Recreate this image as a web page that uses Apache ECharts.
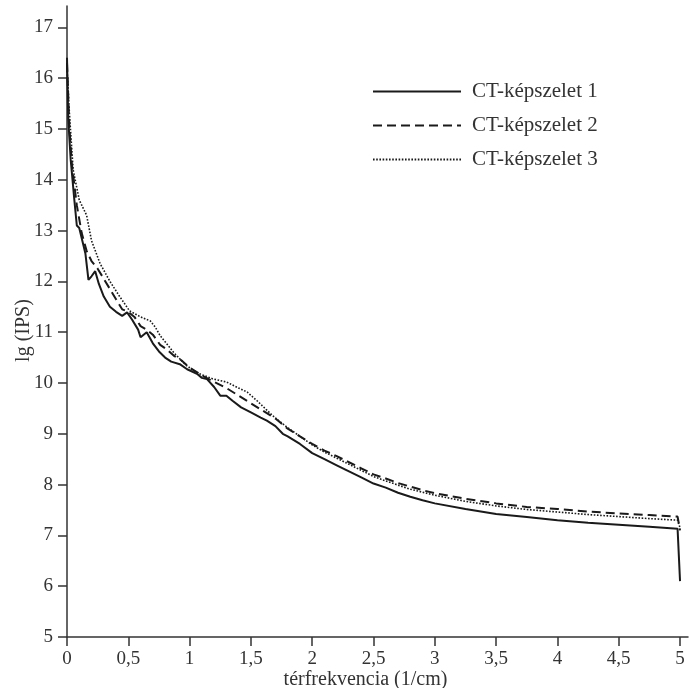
<!DOCTYPE html>
<html><head><meta charset="utf-8">
<script src="https://cdn.jsdelivr.net/npm/echarts@6/dist/echarts.min.js"></script>
<style>html,body{margin:0;padding:0;background:#fff}#c{width:690px;height:688px}</style>
</head><body><div id="c"></div>
<script>
const seriesNames = ['CT-képszelet 1', 'CT-képszelet 2', 'CT-képszelet 3'];
const xTicks = [0, 0.5, 1, 1.5, 2, 2.5, 3, 3.5, 4, 4.5, 5];
const yTicks = [5, 6, 7, 8, 9, 10, 11, 12, 13, 14, 15, 16, 17];

const x1 = [0,0.01,0.03,0.06,0.08,0.1,0.13,0.15,0.175,0.2,0.23,0.26,0.3,0.35,0.4,0.45,0.49,0.53,0.58,0.6,0.65,0.7,0.75,0.8,0.85,0.92,0.98,1.06,1.1,1.14,1.2,1.25,1.3,1.35,1.42,1.5,1.58,1.63,1.7,1.76,1.8,1.9,2.0,2.1,2.2,2.3,2.4,2.5,2.6,2.7,2.8,2.9,3.0,3.25,3.5,3.75,4.0,4.25,4.5,4.75,4.98,5.0];
const y1 = [16.4,15.2,14.4,13.6,13.1,13.05,12.75,12.55,12.03,12.1,12.2,11.95,11.7,11.5,11.4,11.32,11.39,11.25,11.05,10.9,11.0,10.78,10.62,10.5,10.42,10.37,10.27,10.18,10.1,10.08,9.92,9.75,9.75,9.65,9.52,9.42,9.32,9.26,9.15,9.0,8.95,8.8,8.62,8.5,8.38,8.26,8.14,8.02,7.94,7.84,7.76,7.69,7.63,7.52,7.42,7.36,7.3,7.25,7.21,7.17,7.13,6.1];

const x2 = [0,0.02,0.04,0.08,0.12,0.16,0.2,0.25,0.3,0.35,0.4,0.45,0.5,0.55,0.6,0.65,0.7,0.76,0.82,0.87,0.93,1.0,1.1,1.2,1.3,1.4,1.5,1.6,1.7,1.8,1.9,2.0,2.1,2.2,2.3,2.4,2.5,2.6,2.7,2.8,2.9,3.0,3.25,3.5,3.75,4.0,4.25,4.5,4.75,4.98,5.0];
const y2 = [16.3,15.0,14.3,13.5,12.95,12.6,12.4,12.25,12.05,11.85,11.65,11.45,11.4,11.3,11.12,11.05,10.95,10.75,10.65,10.54,10.45,10.3,10.15,10.02,9.9,9.75,9.6,9.45,9.3,9.1,8.95,8.8,8.67,8.56,8.44,8.32,8.2,8.12,8.03,7.96,7.89,7.83,7.72,7.63,7.56,7.52,7.47,7.43,7.4,7.37,7.1];

const x3 = [0,0.02,0.05,0.1,0.16,0.2,0.27,0.35,0.43,0.51,0.6,0.68,0.72,0.76,0.87,0.97,1.06,1.19,1.3,1.4,1.47,1.55,1.68,1.8,1.9,2.0,2.1,2.2,2.3,2.4,2.5,2.6,2.7,2.8,2.9,3.0,3.25,3.5,3.75,4.0,4.25,4.5,4.75,4.98,5.0];
const y3 = [16.2,15.3,14.2,13.6,13.3,12.8,12.35,12.0,11.7,11.42,11.3,11.22,11.1,10.93,10.6,10.35,10.2,10.08,10.02,9.9,9.82,9.65,9.35,9.12,8.95,8.78,8.64,8.52,8.4,8.28,8.16,8.07,7.99,7.91,7.85,7.79,7.67,7.58,7.51,7.46,7.41,7.37,7.33,7.3,7.15];

const zip = (xs, ys) => xs.map((x, i) => [x, ys[i]]);
const FONT = '"Liberation Serif", "DejaVu Serif", serif';
const TXT = '#333';
const LINE = '#1a1a1a';

const chart = echarts.init(document.getElementById('c'), null, {renderer: 'canvas'});
chart.setOption({
  animation: false,
  backgroundColor: '#fff',
  grid: {left: 67, right: 2, top: 6, bottom: 51, containLabel: false, outerBoundsMode: 'none'},
  legend: {
    orient: 'vertical', left: 367, top: 76,
    itemWidth: 88, itemHeight: 14, itemGap: 13,
    itemStyle: {opacity: 0},
    textStyle: {fontFamily: FONT, fontSize: 21, color: TXT, padding: [0, 0, 0, 6]},
    data: seriesNames
  },
  xAxis: {
    type: 'value', min: 0, max: 5.065,
    name: 'térfrekvencia (1/cm)', nameLocation: 'middle', nameGap: 33, nameMoveOverlap: false,
    nameTextStyle: {fontFamily: FONT, fontSize: 20, color: TXT, padding: [0, 24, 0, 0]},
    axisLine: {lineStyle: {color: '#333', width: 1.5}},
    axisTick: {show: true, inside: false, length: 9, customValues: xTicks, lineStyle: {color: '#333', width: 1.5}},
    axisLabel: {customValues: xTicks, fontFamily: FONT, fontSize: 19, color: TXT, margin: 13,
      formatter: v => String(v).replace('.', ',')},
    splitLine: {show: false}
  },
  yAxis: {
    type: 'value', min: 5, max: 17.42,
    name: 'lg (IPS)', nameLocation: 'middle', nameGap: 33, nameMoveOverlap: false,
    nameTextStyle: {fontFamily: FONT, fontSize: 20, color: TXT, padding: [0, 18, 0, 0]},
    axisLine: {show: true, lineStyle: {color: '#333', width: 1.5}},
    axisTick: {show: true, length: 9, customValues: yTicks, lineStyle: {color: '#333', width: 1.5}},
    axisLabel: {customValues: yTicks, fontFamily: FONT, fontSize: 19, color: TXT, margin: 14},
    splitLine: {show: false}
  },
  series: [
    {name: seriesNames[0], type: 'line', data: zip(x1, y1), showSymbol: false, symbol: 'none',
     lineStyle: {color: LINE, width: 2, type: 'solid'}, itemStyle: {color: LINE}},
    {name: seriesNames[1], type: 'line', data: zip(x2, y2), showSymbol: false, symbol: 'none',
     lineStyle: {color: LINE, width: 2, type: [9, 5]}, itemStyle: {color: LINE}},
    {name: seriesNames[2], type: 'line', data: zip(x3, y3), showSymbol: false, symbol: 'none',
     lineStyle: {color: LINE, width: 1.6, type: [1.6, 1.6]}, itemStyle: {color: LINE}}
  ]
});
</script></body></html>
